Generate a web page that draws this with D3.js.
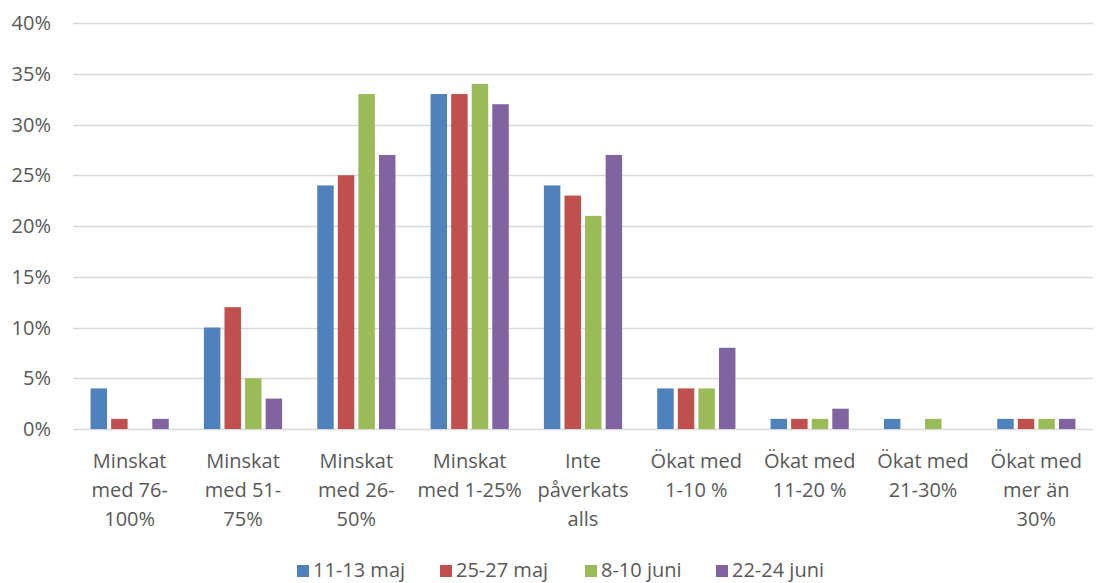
<!DOCTYPE html>
<html><head><meta charset="utf-8">
<script src="https://cdn.jsdelivr.net/npm/d3@7"></script>
<style>body{margin:0;background:#fff}svg{display:block}text{font-family:"Open Sans",sans-serif;fill:#595959}</style>
</head><body><svg id="c" width="1097" height="583"></svg>
<script>
const categories = [["Minskat","med 76-","100%"],["Minskat","med 51-","75%"],["Minskat","med 26-","50%"],["Minskat","med 1-25%"],["Inte","påverkats","alls"],["Ökat med","1-10 %"],["Ökat med","11-20 %"],["Ökat med","21-30%"],["Ökat med","mer än","30%"]];
const seriesNames = ["11-13 maj","25-27 maj","8-10 juni","22-24 juni"];
const s1 = [4,10,24,33,24,4,1,1,1];
const s2 = [1,12,25,33,23,4,1,0,1];
const s3 = [0,5,33,34,21,4,1,1,1];
const s4 = [1,3,27,32,27,8,2,0,1];
const yTicks = [0,5,10,15,20,25,30,35,40];
const colors = ["#4F81BD","#C0504D","#9BBB59","#8064A2"];
const series = [s1,s2,s3,s4];

const svg = d3.select("#c");
const x = d3.scaleBand().domain(d3.range(categories.length)).range([73,1093]).paddingInner(0.31).paddingOuter(0.155);
const xs = d3.scaleBand().domain(d3.range(4)).range([0,x.bandwidth()]).paddingInner(0.2);
const y = d3.scaleLinear().domain([0,40]).range([429,23]);

svg.append("g").selectAll("line").data(yTicks).join("line")
  .attr("x1",73).attr("x2",1093).attr("y1",d=>Math.round(y(d))+0.5).attr("y2",d=>Math.round(y(d))+0.5)
  .attr("stroke","#d9d9d9").attr("stroke-width",1.3);
svg.append("g").selectAll("text").data(yTicks).join("text")
  .attr("x",51).attr("y",d=>y(d)).attr("dy","0.35em").attr("text-anchor","end")
  .attr("font-size",20).text(d=>d+"%");

const groups = svg.append("g").selectAll("g").data(categories).join("g")
  .attr("transform",(d,i)=>`translate(${x(i)},0)`);
series.forEach((s,j)=>{
  groups.append("rect").attr("x",xs(j)).attr("width",xs.bandwidth())
    .attr("y",(d,i)=>y(s[i])).attr("height",(d,i)=>y(0)-y(s[i]))
    .attr("fill",colors[j]);
});
groups.each(function(d,i){
  const g = d3.select(this);
  d.forEach((line,k)=>{
    g.append("text").attr("x",x.bandwidth()/2).attr("y",468+k*29).attr("text-anchor","middle")
      .attr("font-size",20).text(line);
  });
});

const legX = [297,440,585,716];
const leg = svg.append("g").selectAll("g").data(seriesNames).join("g")
  .attr("transform",(d,i)=>`translate(${legX[i]},565)`);
leg.append("rect").attr("width",12).attr("height",12).attr("fill",(d,i)=>colors[i]);
leg.append("text").attr("x",16).attr("y",12).attr("font-size",20).text(d=>d);
</script></body></html>
